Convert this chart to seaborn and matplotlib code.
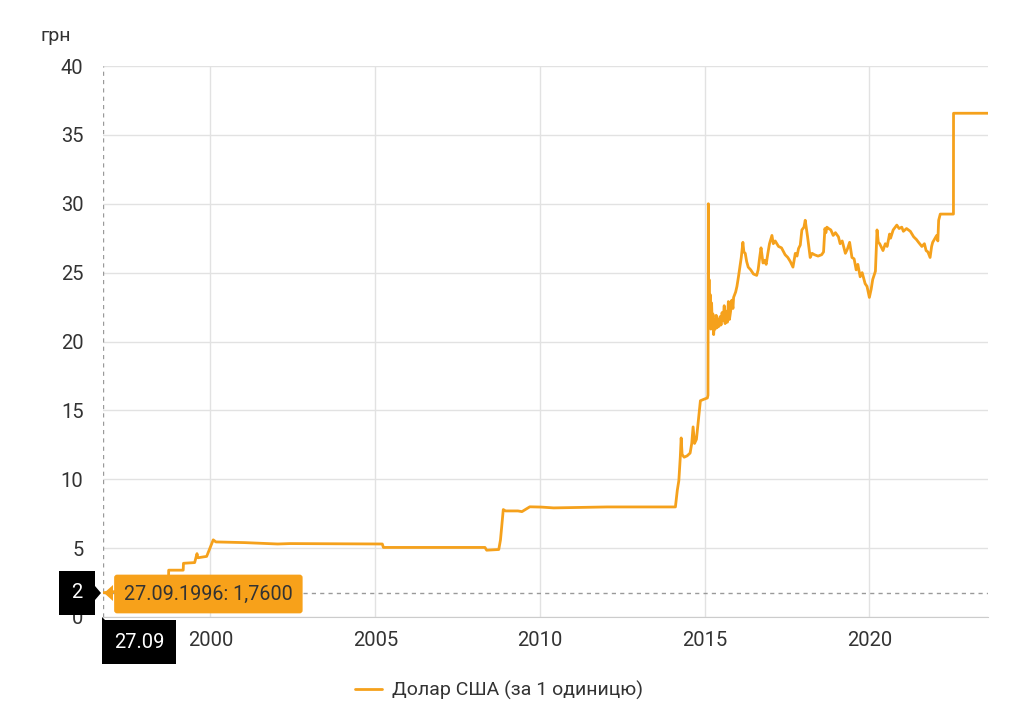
import matplotlib.pyplot as plt
import matplotlib.dates as mdates
from matplotlib.patches import Polygon
import pandas as pd
import seaborn as sns

# Курс долара США (грн за 1 одиницю)
dates = [
    '1996-09-27', '1997-03-01', '1997-09-01', '1998-03-01', '1998-09-22', '1998-09-25',
    '1999-03-05', '1999-03-08', '1999-07-10', '1999-08-05', '1999-08-15', '1999-11-20',
    '2000-02-01', '2000-03-01', '2001-01-15', '2002-01-15', '2002-06-01', '2005-03-20',
    '2005-04-01', '2008-05-01', '2008-05-20', '2008-10-01', '2008-10-20', '2008-11-20',
    '2008-12-15', '2009-05-01', '2009-06-15', '2009-09-10', '2010-01-15', '2010-06-01',
    '2011-01-15', '2012-01-15', '2013-01-15', '2014-02-10',
    '2014-03-03', '2014-03-20', '2014-04-05', '2014-04-15', '2014-04-25', '2014-05-18',
    '2014-06-20', '2014-07-23', '2014-08-10', '2014-08-25', '2014-09-10', '2014-10-01',
    '2014-11-14', '2014-12-20', '2015-01-30', '2015-02-06', '2015-02-10', '2015-02-14',
    '2015-02-18', '2015-02-24', '2015-03-03', '2015-03-10', '2015-03-18', '2015-03-25',
    '2015-04-02', '2015-04-10', '2015-04-20', '2015-04-27', '2015-05-08', '2015-05-18',
    '2015-05-28', '2015-06-08', '2015-06-20', '2015-07-01', '2015-07-12', '2015-07-24',
    '2015-08-05', '2015-08-15', '2015-08-28', '2015-09-09', '2015-09-20', '2015-10-02',
    '2015-10-15', '2015-10-28', '2015-11-10', '2015-11-17', '2015-12-10', '2015-12-24',
    '2016-01-10', '2016-01-25', '2016-02-10', '2016-02-28', '2016-03-10', '2016-03-25',
    '2016-04-10', '2016-04-27', '2016-05-25', '2016-06-24', '2016-07-30', '2016-08-15',
    '2016-09-01', '2016-09-16', '2016-10-08', '2016-10-26', '2016-11-12', '2016-12-01',
    '2016-12-19', '2017-01-15', '2017-01-30', '2017-02-20', '2017-03-29', '2017-05-01',
    '2017-06-10', '2017-07-10', '2017-08-07', '2017-09-05', '2017-10-01', '2017-10-20',
    '2017-11-06', '2017-11-25', '2017-12-13', '2018-01-05', '2018-01-19', '2018-02-14',
    '2018-03-15', '2018-04-05', '2018-05-01', '2018-06-10', '2018-07-20', '2018-08-10',
    '2018-08-25', '2018-09-05', '2018-09-16', '2018-10-05', '2018-10-30', '2018-11-25',
    '2018-12-20', '2019-01-22', '2019-02-10', '2019-03-05', '2019-04-09', '2019-05-01',
    '2019-05-26', '2019-06-21', '2019-07-15', '2019-08-07', '2019-08-25', '2019-09-20',
    '2019-10-12', '2019-11-14', '2019-12-05', '2019-12-31', '2020-01-20', '2020-02-06',
    '2020-03-07', '2020-03-25', '2020-04-08', '2020-04-23', '2020-05-30', '2020-06-25',
    '2020-07-15', '2020-08-11', '2020-08-22', '2020-09-20', '2020-10-30', '2020-11-25',
    '2020-12-24', '2021-01-11', '2021-02-15', '2021-03-29', '2021-05-05', '2021-06-05',
    '2021-06-28', '2021-08-04', '2021-09-01', '2021-09-20', '2021-10-10', '2021-11-03',
    '2021-11-20', '2021-12-02', '2022-01-15', '2022-01-28', '2022-02-06', '2022-02-24',
    '2022-07-20', '2022-07-21', '2023-08-07',
]
values = [
    1.76, 1.86, 1.88, 2.0, 2.25, 3.4,
    3.4, 3.9, 3.95, 4.6, 4.3, 4.4,
    5.6, 5.45, 5.4, 5.3, 5.33, 5.3,
    5.05, 5.05, 4.85, 4.9, 5.6, 7.8,
    7.7, 7.7, 7.65, 8.0, 7.98, 7.92,
    7.95, 7.99, 7.99, 7.99,
    9.2, 9.9, 11.6, 13.0, 11.8, 11.6,
    11.7, 11.9, 12.6, 13.8, 12.6, 12.9,
    15.7, 15.8, 15.9, 16.1, 30.0, 23.0,
    24.5, 21.5, 23.4, 20.9, 22.8, 21.3,
    22.0, 20.5, 21.6, 20.9, 21.9, 21.0,
    21.6, 21.1, 21.8, 21.2, 22.1, 21.5,
    22.6, 21.3, 22.2, 21.4, 22.9, 21.6,
    22.2, 23.0, 22.4, 23.2, 23.6, 24.0,
    24.7, 25.4, 26.1, 27.2, 26.5, 26.4,
    25.8, 25.4, 25.2, 24.9, 24.8, 25.2,
    26.1, 26.8, 25.7, 25.9, 25.6, 26.4,
    27.1, 27.7, 27.1, 27.3, 26.9, 26.8,
    26.3, 26.1, 25.8, 25.4, 26.4, 26.2,
    26.75, 27.0, 28.1, 28.3, 28.8, 27.6,
    26.1, 26.4, 26.3, 26.2, 26.3, 26.5,
    28.2, 27.9, 28.3, 28.2, 28.1, 27.7,
    27.9, 27.6, 27.1, 27.3, 26.4, 26.7,
    27.2, 26.1, 26.0, 25.2, 25.6, 24.7,
    25.0, 24.2, 24.0, 23.2, 23.8, 24.5,
    25.1, 28.1, 27.2, 27.1, 26.6, 27.1,
    26.9, 27.8, 27.5, 28.1, 28.45, 28.2,
    28.3, 28.0, 28.2, 28.0, 27.6, 27.4,
    27.2, 26.9, 27.1, 26.6, 26.5, 26.1,
    26.9, 27.2, 27.7, 27.3, 28.8, 29.25,
    29.25, 36.57, 36.57,
]
series_name = 'Долар США (за 1 одиницю)'
y_ticks = [0, 5, 10, 15, 20, 25, 30, 35, 40]
x_tick_years = [2000, 2005, 2010, 2015, 2020]
tip_date = '1996-09-27'
tip_value = 1.76
tip_text = '27.09.1996: 1,7600'

df = pd.DataFrame({'date': pd.to_datetime(dates), 'value': values})

sns.set_style('white')
plt.rcParams['font.family'] = ['Roboto', 'DejaVu Sans']

line_color = '#F5A11C'
text_color = '#333333'

fig = plt.figure(figsize=(10.24, 7.18), dpi=100)
ax = fig.add_axes([103 / 1024, 1 - 617 / 718, 885 / 1024, 551 / 718])

sns.lineplot(data=df, x='date', y='value', ax=ax, color=line_color,
             linewidth=2.0, label=series_name, legend=False, zorder=3)

ax.set_xlim(pd.Timestamp(tip_date), pd.Timestamp(dates[-1]))
ax.set_ylim(0, 40)
ax.set_yticks(y_ticks)
ax.set_xticks([pd.Timestamp(f'{y}-01-01') for y in x_tick_years])
ax.xaxis.set_major_formatter(mdates.DateFormatter('%Y'))
ax.set_xlabel('')
ax.set_ylabel('')
ax.grid(True, color='#e2e2e2', linewidth=1)
ax.set_axisbelow(True)
for s in ['top', 'left', 'right']:
    ax.spines[s].set_visible(False)
ax.spines['bottom'].set_color('#cccccc')
ax.tick_params(length=0, labelsize=14.5, colors=text_color)
ax.tick_params(axis='y', pad=14)
ax.tick_params(axis='x', pad=10)

# крос-лінії підказки
ax.axvline(pd.Timestamp(tip_date), color='#9a9a9a', linestyle=(0, (3, 3)), linewidth=1, zorder=2)
ax.axhline(tip_value, color='#9a9a9a', linestyle=(0, (3, 3)), linewidth=1, zorder=2)

fig.text(40 / 1024, 1 - 36 / 718, 'грн', fontsize=14, color=text_color, va='center')

# підказка
fig.patches.append(Polygon([[113 / 1024, 1 - 585 / 718], [104 / 1024, 1 - 593 / 718],
                            [113 / 1024, 1 - 601 / 718]], closed=True,
                           transform=fig.transFigure, fc='#F7A11A', ec='none', zorder=10))
fig.text(124 / 1024, 1 - 594 / 718, tip_text, fontsize=14.2, color=text_color, va='center', zorder=11,
         bbox=dict(boxstyle='round,pad=0.5,rounding_size=0.15', fc='#F7A11A', ec='none'))

fig.patches.append(Polygon([[95 / 1024, 1 - 586 / 718], [101 / 1024, 1 - 593 / 718],
                            [95 / 1024, 1 - 600 / 718]], closed=True,
                           transform=fig.transFigure, fc='black', ec='none', zorder=10))
fig.text(77 / 1024, 1 - 593 / 718, '2', fontsize=14.5, color='white', ha='center', va='center',
         zorder=11, bbox=dict(boxstyle='square,pad=0.6', fc='black', ec='none'))

fig.patches.append(Polygon([[102 / 1024, 1 - 617 / 718], [102 / 1024, 1 - 624 / 718],
                            [109 / 1024, 1 - 624 / 718]], closed=True,
                           transform=fig.transFigure, fc='black', ec='none', zorder=10))
fig.text(139 / 1024, 1 - 642 / 718, '27.09', fontsize=14.5, color='white', ha='center', va='center',
         zorder=11, bbox=dict(boxstyle='square,pad=0.6', fc='black', ec='none'))

handles, labels = ax.get_legend_handles_labels()
fig.legend(handles, labels, loc='center', bbox_to_anchor=(499 / 1024, 1 - 690 / 718),
           frameon=False, fontsize=14, handlelength=1.4, handletextpad=0.5,
           labelcolor=text_color)

fig.savefig('out.png', dpi=100)
